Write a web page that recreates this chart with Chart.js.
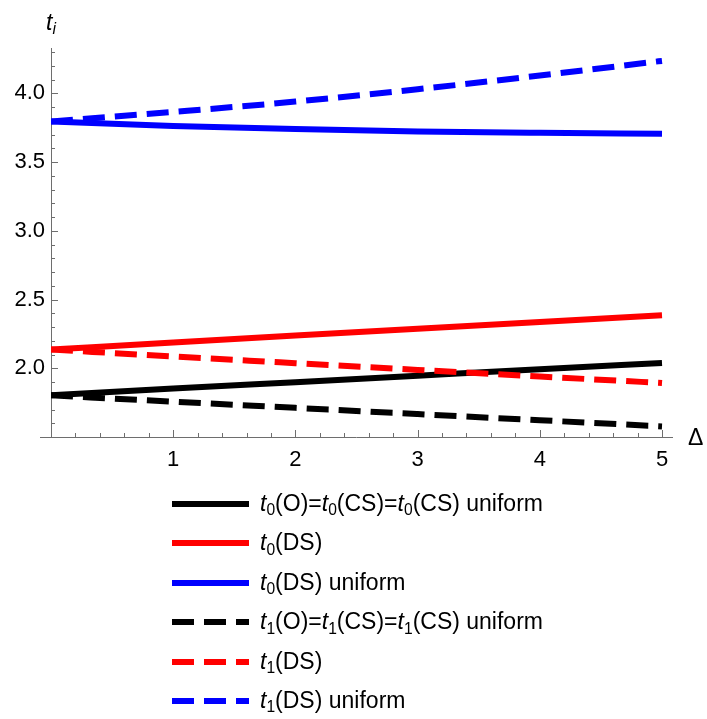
<!DOCTYPE html>
<html>
<head>
<meta charset="utf-8">
<script src="https://cdn.jsdelivr.net/npm/chart.js@4/dist/chart.umd.min.js"></script>
<style>
  html, body { margin: 0; padding: 0; background: #fff; }
  body { width: 707px; height: 719px; position: relative; overflow: hidden;
         font-family: "Liberation Sans", Arial, sans-serif; color: #000; }
  #wrap { position: absolute; left: 0; top: 0; width: 707px; height: 480px; }
  .axis-label { position: absolute; font-size: 23px; line-height: 1; white-space: nowrap; }
  .sub { font-size: 0.68em; position: relative; top: 0.28em; font-style: normal; }
  .sub.it { font-style: italic; }
  #legend { position: absolute; left: 0; top: 0; width: 707px; height: 719px; pointer-events: none; }
  .row { position: absolute; left: 0; height: 40px; width: 707px; }
  .row svg { position: absolute; left: 172px; top: 16px; }
  .row .txt { position: absolute; left: 260px; top: 6px; font-size: 23px; line-height: 26px; white-space: nowrap; }
</style>
</head>
<body>
<div id="wrap"><canvas id="c" width="707" height="480"></canvas></div>
<span class="axis-label" style="left:46px; top:11px;"><i>t</i><span class="sub it">i</span></span>
<span class="axis-label" style="left:688px; top:426px;">Δ</span>
<div id="legend"></div>
<script>
// Δ values and the six curves
const deltaValues = [0, 1, 2, 3, 4, 5];
const t0OCS       = [1.803, 1.852, 1.899, 1.946, 1.993, 2.039];
const t0DS        = [2.136, 2.188, 2.238, 2.287, 2.336, 2.385];
const t0DSUniform = [3.796, 3.763, 3.740, 3.723, 3.713, 3.706];
const t1OCS       = [1.803, 1.757, 1.712, 1.667, 1.622, 1.577];
const t1DS        = [2.136, 2.086, 2.037, 1.988, 1.940, 1.893];
const t1DSUniform = [3.796, 3.865, 3.940, 4.030, 4.130, 4.236];

// tick labels
const xTickValues = [1, 2, 3, 4, 5];
const yTickValues = [2.0, 2.5, 3.0, 3.5, 4.0];

// legend entries (HTML, with subscripts)
const legendLabels = [
  '<i>t</i><span class="sub">0</span>(O)=<i>t</i><span class="sub">0</span>(CS)=<i>t</i><span class="sub">0</span>(CS) uniform',
  '<i>t</i><span class="sub">0</span>(DS)',
  '<i>t</i><span class="sub">0</span>(DS) uniform',
  '<i>t</i><span class="sub">1</span>(O)=<i>t</i><span class="sub">1</span>(CS)=<i>t</i><span class="sub">1</span>(CS) uniform',
  '<i>t</i><span class="sub">1</span>(DS)',
  '<i>t</i><span class="sub">1</span>(DS) uniform'
];

const seriesValues = [t0OCS, t0DS, t0DSUniform, t1OCS, t1DS, t1DSUniform];
const seriesColors = ['#000000', '#ff0000', '#0000ff', '#000000', '#ff0000', '#0000ff'];
const seriesDashed = [false, false, false, true, true, true];
const DASH = [22, 10];
const LINE_W = 6;

const X_MIN = 0, X_MAX = 5.09, X_AXIS_LEFT = -0.09;
const Y_MIN = 1.5, Y_MAX = 4.33;
const AXIS_COLOR = '#6e6e6e';

const datasets = seriesValues.map((vals, i) => ({
  label: 'series' + i,
  data: deltaValues.map((d, j) => ({ x: d, y: vals[j] })),
  borderColor: seriesColors[i],
  backgroundColor: seriesColors[i],
  borderWidth: LINE_W,
  borderDash: seriesDashed[i] ? DASH : [],
  borderCapStyle: 'butt',
  pointRadius: 0,
  pointHoverRadius: 0,
  cubicInterpolationMode: 'monotone',
  fill: false,
  order: seriesValues.length - i
}));

// Mathematica-style axes crossing at (0, 1.5), ticks pointing into the plot
const axesPlugin = {
  id: 'crossAxes',
  beforeDatasetsDraw(chart) {
    const { ctx, scales: { x, y } } = chart;
    const y0 = y.getPixelForValue(Y_MIN);
    const x0 = x.getPixelForValue(0);
    ctx.save();
    ctx.strokeStyle = AXIS_COLOR;
    ctx.lineWidth = 1;
    ctx.beginPath();
    ctx.moveTo(x.getPixelForValue(X_AXIS_LEFT), y0 + 0.5);
    ctx.lineTo(x.getPixelForValue(X_MAX), y0 + 0.5);
    ctx.moveTo(x0 + 0.5, y0);
    ctx.lineTo(x0 + 0.5, y.getPixelForValue(Y_MAX));
    // x ticks every 0.2
    for (let k = 1; k <= 25; k++) {
      const px = Math.round(x.getPixelForValue(k / 5)) + 0.5;
      const len = (k % 5 === 0) ? 7 : 4;
      ctx.moveTo(px, y0);
      ctx.lineTo(px, y0 - len);
    }
    // y ticks every 0.1
    for (let k = 15; k <= 43; k++) {
      const py = Math.round(y.getPixelForValue(k / 10)) + 0.5;
      const len = (k % 5 === 0) ? 7 : 4;
      ctx.moveTo(x0, py);
      ctx.lineTo(x0 + len, py);
    }
    ctx.stroke();
    ctx.restore();
  }
};

Chart.defaults.font.family = '"Liberation Sans", Arial, sans-serif';

new Chart(document.getElementById('c'), {
  type: 'line',
  data: { datasets },
  options: {
    responsive: false,
    animation: false,
    events: [],
    layout: { padding: { top: 48, right: 34, left: 0, bottom: 0 } },
    plugins: { legend: { display: false }, tooltip: { enabled: false } },
    scales: {
      x: {
        type: 'linear', min: X_MIN, max: X_MAX,
        afterBuildTicks: s => { s.ticks = xTickValues.map(v => ({ value: v })); },
        afterFit: s => { s.height = 43; },
        grid: { display: false, drawTicks: false },
        border: { display: false },
        ticks: { color: '#000', font: { size: 22 }, padding: 10, maxRotation: 0,
                 callback: v => String(v) }
      },
      y: {
        type: 'linear', min: Y_MIN, max: Y_MAX,
        afterBuildTicks: s => { s.ticks = yTickValues.map(v => ({ value: v })); },
        afterFit: s => { s.width = 51; },
        grid: { display: false, drawTicks: false },
        border: { display: false },
        ticks: { color: '#000', font: { size: 22 }, padding: 6,
                 callback: v => Number(v).toFixed(1) }
      }
    }
  },
  plugins: [axesPlugin]
});

// legend rows
const legend = document.getElementById('legend');
legendLabels.forEach((html, i) => {
  const row = document.createElement('div');
  row.className = 'row';
  row.style.top = (484 + i * 39.4) + 'px';
  const dash = seriesDashed[i] ? `stroke-dasharray="${DASH.join(' ')}"` : '';
  row.innerHTML =
    `<svg width="78" height="8"><line x1="0" y1="4" x2="77" y2="4" stroke="${seriesColors[i]}" stroke-width="${LINE_W}" ${dash}/></svg>` +
    `<span class="txt">${html}</span>`;
  legend.appendChild(row);
});
</script>
</body>
</html>
